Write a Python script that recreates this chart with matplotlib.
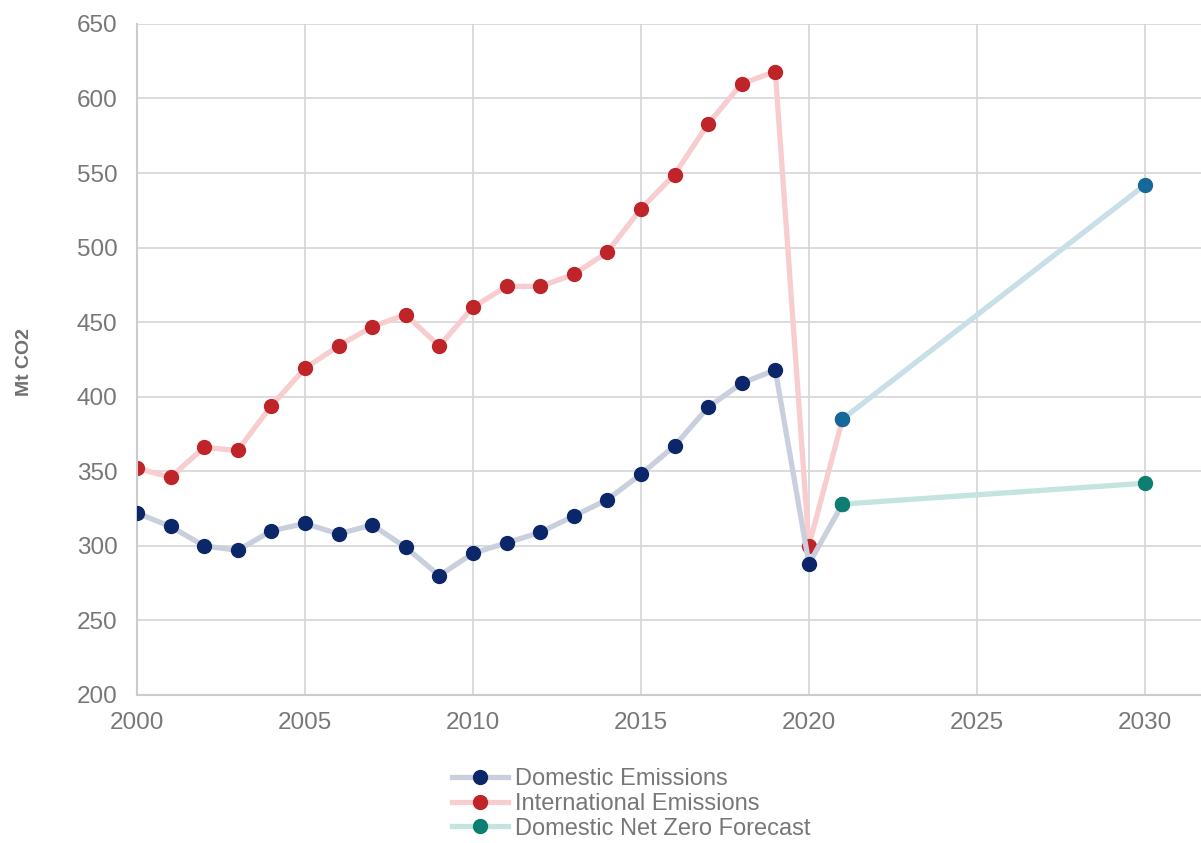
import numpy as np
import matplotlib.pyplot as plt

# Datos (Mt CO2)
anios = list(range(2000, 2022))
domesticas = [322, 313, 300, 297, 310, 315, 308, 314, 299, 280, 295, 302, 309, 320, 331, 348, 367, 393, 409, 418, 288, 328]
internacionales = [352, 346, 366, 364, 394, 419, 434, 447, 455, 434, 460, 474, 474, 482, 497, 526, 549, 583, 610, 618, 300, 385]
anios_prevision = [2021, 2030]
prevision_net_zero = [328, 342]
prevision_internacional = [385, 542]

series = ['Domestic Emissions', 'International Emissions', 'Domestic Net Zero Forecast']
ticks_y = [200, 250, 300, 350, 400, 450, 500, 550, 600, 650]
ticks_x = [2000, 2005, 2010, 2015, 2020, 2025, 2030]

plt.rcParams['font.family'] = ['Liberation Sans', 'DejaVu Sans']
gris = '#777777'

fig = plt.figure(figsize=(12.01, 8.43), dpi=100)
ax = fig.add_axes([0.114, 0.1756, 0.886, 0.796])

lw = 3.8
ms = 10
ax.plot(anios, domesticas, color='#c9cfdc', lw=lw, marker='o', ms=ms,
        mfc='#0c2769', mec='#0c2769', zorder=3, label=series[0])
ax.plot(anios, internacionales, color='#f7cdcf', lw=lw, marker='o', ms=ms,
        mfc='#bf2429', mec='#bf2429', zorder=2, label=series[1])
ax.plot(anios_prevision, prevision_net_zero, color='#c4e4e0', lw=lw, marker='o', ms=ms,
        mfc='#0d7f72', mec='#0d7f72', zorder=4, label=series[2])
ax.plot(anios_prevision, prevision_internacional, color='#c8dfe7', lw=lw, marker='o', ms=ms,
        mfc='#15699a', mec='#15699a', zorder=4)

ax.set_xlim(2000, 2031.67)
ax.set_ylim(200, 650)
ax.set_xticks(ticks_x)
ax.set_yticks(ticks_y)
ax.grid(True, color='#d6d6d6', lw=1.2)
ax.set_axisbelow(True)
for lado in ['top', 'right']:
    ax.spines[lado].set_visible(False)
for lado in ['left', 'bottom']:
    ax.spines[lado].set_color('#cccccc')
    ax.spines[lado].set_linewidth(1.5)
ax.tick_params(length=0, labelsize=17.5, labelcolor=gris)
ax.tick_params(axis='y', pad=14)
ax.tick_params(axis='x', pad=12)

fig.text(0.02, 0.57, 'Mt CO2', rotation=90, ha='center', va='center',
         fontsize=14, fontweight='bold', color='#707070')

leg = fig.legend(loc='upper left', bbox_to_anchor=(0.376, 0.089), frameon=False,
                 fontsize=17, labelspacing=0.12, handlelength=2.4,
                 handletextpad=0.3, borderpad=0, borderaxespad=0)
for t in leg.get_texts():
    t.set_color(gris)

fig.savefig('out.png', dpi=100)
